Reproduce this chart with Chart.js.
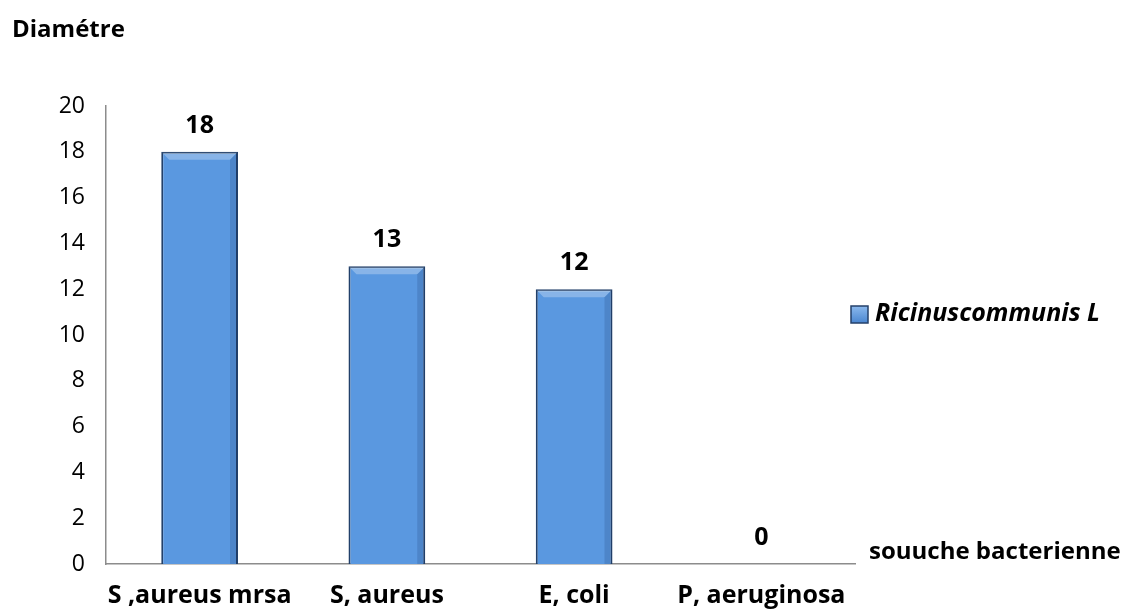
<!DOCTYPE html>
<html>
<head>
<meta charset="utf-8">
<script src="https://cdn.jsdelivr.net/npm/chart.js@4"></script>
<style>
  html, body { margin: 0; padding: 0; background: #fff; }
  #wrap { width: 1126px; height: 616px; }
</style>
</head>
<body>
<div id="wrap"><canvas id="myChart" width="1126" height="616"></canvas></div>
<script>
const souches = ["S ,aureus mrsa", "S, aureus", "E, coli", "P, aeruginosa"];
const diametres = [18, 13, 12, 0];
const serieNom = "Ricinuscommunis L";
const yTitre = "Diamétre";
const xTitre = "souuche bacterienne";

const police = "'Open Sans', Lato, sans-serif";

// text around the plot + bar values + the small legend
const extras = {
  id: "extras",
  afterDatasetsDraw(chart) {
    const ctx = chart.ctx;
    const meta = chart.getDatasetMeta(0);
    ctx.save();

    // bevel look on bars
    meta.data.forEach(b => {
      const h = b.base - b.y;
      if (h <= 2) return;
      const l = b.x - b.width / 2 + 1, r = b.x + b.width / 2 - 1, t = b.y + 1;
      const e = 7;
      ctx.fillStyle = "rgba(255,255,255,0.28)";
      ctx.beginPath();
      ctx.moveTo(l, t); ctx.lineTo(r, t); ctx.lineTo(r - e, t + e); ctx.lineTo(l + e, t + e);
      ctx.closePath(); ctx.fill();
      ctx.fillStyle = "rgba(20,50,100,0.18)";
      ctx.beginPath();
      ctx.moveTo(r, t); ctx.lineTo(r, b.base); ctx.lineTo(r - e, b.base); ctx.lineTo(r - e, t + e);
      ctx.closePath(); ctx.fill();
    });

    // values
    ctx.fillStyle = "#000";
    ctx.font = "bold 25px " + police;
    ctx.textAlign = "center";
    ctx.textBaseline = "middle";
    meta.data.forEach((b, i) => {
      ctx.fillText(String(diametres[i]), b.x, b.y - 26);
    });

    // titles
    ctx.textAlign = "left";
    ctx.font = "bold 24px " + police;
    ctx.fillText(yTitre, 12, 30);
    ctx.font = "bold 24px " + police;
    ctx.fillText(xTitre, 869, chart.chartArea.bottom - 12);

    // legend
    const lx = 851, ly = 314;
    const g = ctx.createLinearGradient(0, ly - 9, 0, ly + 9);
    g.addColorStop(0, "#8fbcef");
    g.addColorStop(1, "#4a86d0");
    ctx.fillStyle = g;
    ctx.fillRect(lx, ly - 8, 17, 17);
    ctx.strokeStyle = "#24406a";
    ctx.lineWidth = 1.5;
    ctx.strokeRect(lx, ly - 8, 17, 17);
    ctx.fillStyle = "#000";
    ctx.font = "italic bold 25px " + police;
    ctx.fillText(serieNom, lx + 24, ly);

    ctx.restore();
  }
};

new Chart(document.getElementById("myChart"), {
  type: "bar",
  data: {
    labels: souches,
    datasets: [{
      label: serieNom,
      data: diametres,
      backgroundColor: "#5a98e0",
      borderColor: "#22406a",
      borderWidth: 2,
      categoryPercentage: 1,
      barPercentage: 0.41
    }]
  },
  options: {
    responsive: false,
    animation: false,
    layout: { padding: { top: 106, right: 271, left: 0, bottom: 0 } },
    plugins: {
      legend: { display: false },
      tooltip: { enabled: false }
    },
    scales: {
      y: {
        min: 0,
        max: 20,
        afterFit(s) { s.width = 106; },
        ticks: {
          stepSize: 2,
          padding: 21,
          color: "#000",
          font: { family: police, size: 23 }
        },
        grid: { display: false, drawTicks: false },
        border: { display: true, color: "#8c8c8c", width: 1.5 }
      },
      x: {
        afterFit(s) { s.height = 52; },
        ticks: {
          padding: 17,
          color: "#000",
          maxRotation: 0,
          font: { family: police, size: 25, weight: "bold" }
        },
        grid: { display: false, drawTicks: false },
        border: { display: true, color: "#8c8c8c", width: 1.5 }
      }
    }
  },
  plugins: [extras]
});
</script>
</body>
</html>
